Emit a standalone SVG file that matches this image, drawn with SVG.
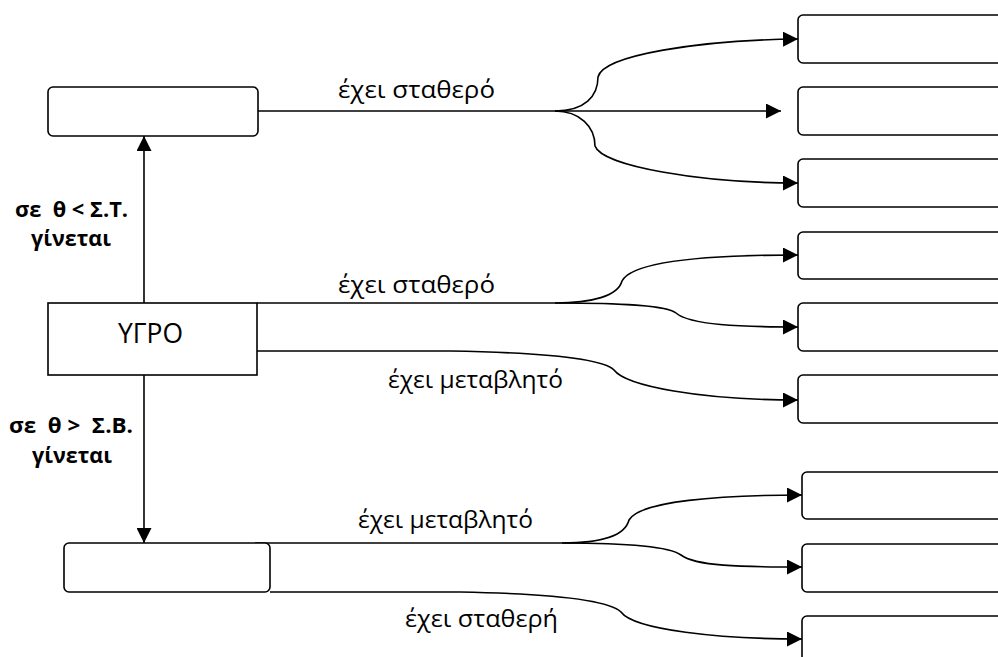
<svg xmlns="http://www.w3.org/2000/svg" width="998" height="657" viewBox="0 0 998 657">
  <style>
    .box { fill: #ffffff; stroke: #000000; stroke-width: 1.6; }
    .wire { fill: none; stroke: #000000; stroke-width: 1.6; }
    .lbl { font-family: "Open Sans", "Noto Sans", "DejaVu Sans", sans-serif; font-size: 24px; fill: #000000; }
    .cond { font-family: "Open Sans", "Noto Sans", "DejaVu Sans", sans-serif; font-size: 21px; font-weight: bold; fill: #000000; white-space: pre; }
    .main { font-family: "Open Sans", "Noto Sans", "DejaVu Sans", sans-serif; font-size: 28px; fill: #000000; }
  </style>
  <defs>
    <marker id="head" viewBox="0 0 15 15" refX="15" refY="7.5" markerWidth="15" markerHeight="15" markerUnits="userSpaceOnUse" orient="auto">
      <path d="M0,0 L15,7.5 L0,15 Z" fill="#000000"/>
    </marker>
  </defs>

  <rect width="998" height="657" fill="#ffffff"/>

  <!-- connectors -->
  <g id="connectors">
    <!-- vertical state changes -->
    <path class="wire" d="M144,303 L144,136" marker-end="url(#head)"/>
    <path class="wire" d="M144,375 L144,543" marker-end="url(#head)"/>

    <!-- upper fan -->
    <path class="wire" d="M258,111 L555,111"/>
    <path class="wire" d="M555,111 C585,111 598,96 598,77 C603,55 700,40 798,39" marker-end="url(#head)"/>
    <path class="wire" d="M555,111 L781,111" marker-end="url(#head)"/>
    <path class="wire" d="M555,111 C580,111 595,127 595,146 C602,166 700,183 798,183" marker-end="url(#head)"/>

    <!-- middle fan -->
    <path class="wire" d="M257,303 L555,303"/>
    <path class="wire" d="M555,303 C592,303 618,296 622,281 C632,262 700,255 798,255" marker-end="url(#head)"/>
    <path class="wire" d="M555,303 C620,303 666,305 676,313 C690,325 740,327 798,327" marker-end="url(#head)"/>
    <path class="wire" d="M257,351 L450,351 C560,353 604,360 614,370 C626,386 700,400 798,400" marker-end="url(#head)"/>

    <!-- lower fan -->
    <path class="wire" d="M255,543 L562,543"/>
    <path class="wire" d="M562,543 C600,543 625,536 629,520 C640,501 720,495 802,495" marker-end="url(#head)"/>
    <path class="wire" d="M562,543 C630,543 670,547 681,555 C695,566 740,567 802,567" marker-end="url(#head)"/>
    <path class="wire" d="M270,592 L460,592 C570,594 611,602 621,612 C634,630 720,639 802,639" marker-end="url(#head)"/>
  </g>

  <!-- left column -->
  <g id="solid">
    <rect class="box" x="48" y="87" width="210" height="49" rx="5"/>
  </g>
  <g id="liquid">
    <rect class="box" x="48" y="303" width="209" height="72"/>
    <text class="main" x="118" y="343" textLength="65" lengthAdjust="spacingAndGlyphs">ΥΓΡΟ</text>
  </g>
  <g id="gas">
    <rect class="box" x="64" y="543" width="206" height="49" rx="5"/>
  </g>

  <!-- condition labels -->
  <g id="cond-freeze">
    <text class="cond" x="15" y="217" textLength="113" lengthAdjust="spacingAndGlyphs">σε  θ &lt; Σ.Τ.</text>
    <text class="cond" x="31" y="246" textLength="80" lengthAdjust="spacingAndGlyphs">γίνεται</text>
  </g>
  <g id="cond-boil">
    <text class="cond" x="9" y="433" textLength="124" lengthAdjust="spacingAndGlyphs">σε  θ &gt;  Σ.Β.</text>
    <text class="cond" x="32" y="463" textLength="80" lengthAdjust="spacingAndGlyphs">γίνεται</text>
  </g>

  <!-- branch labels -->
  <g id="branch-labels">
    <text class="lbl" x="338" y="98" textLength="157" lengthAdjust="spacingAndGlyphs">έχει σταθερό</text>
    <text class="lbl" x="338" y="293" textLength="157" lengthAdjust="spacingAndGlyphs">έχει σταθερό</text>
    <text class="lbl" x="388" y="388" textLength="175" lengthAdjust="spacingAndGlyphs">έχει μεταβλητό</text>
    <text class="lbl" x="358" y="528" textLength="175" lengthAdjust="spacingAndGlyphs">έχει μεταβλητό</text>
    <text class="lbl" x="405" y="627" textLength="153" lengthAdjust="spacingAndGlyphs">έχει σταθερή</text>
  </g>

  <!-- right column boxes (run past the right edge) -->
  <g id="solid-a"><rect class="box" x="798" y="15" width="230" height="48" rx="5"/></g>
  <g id="solid-b"><rect class="box" x="798" y="87" width="230" height="48" rx="5"/></g>
  <g id="solid-c"><rect class="box" x="798" y="159" width="230" height="48" rx="5"/></g>
  <g id="liquid-a"><rect class="box" x="798" y="232" width="230" height="47" rx="5"/></g>
  <g id="liquid-b"><rect class="box" x="798" y="303" width="230" height="48" rx="5"/></g>
  <g id="liquid-c"><rect class="box" x="798" y="375" width="230" height="48" rx="5"/></g>
  <g id="gas-a"><rect class="box" x="802" y="472" width="230" height="47" rx="5"/></g>
  <g id="gas-b"><rect class="box" x="802" y="544" width="230" height="48" rx="5"/></g>
  <g id="gas-c"><rect class="box" x="802" y="616" width="230" height="48" rx="5"/></g>
</svg>
